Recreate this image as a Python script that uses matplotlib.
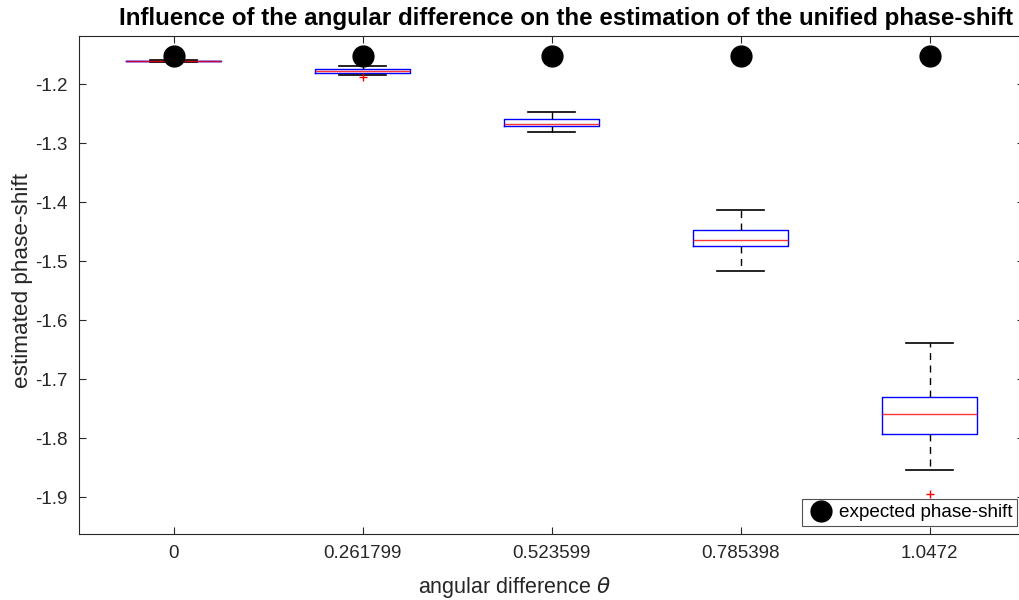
import matplotlib
matplotlib.use("Agg")
import matplotlib.pyplot as plt

plt.rcParams['font.family'] = ['Liberation Sans', 'DejaVu Sans']
plt.rcParams['axes.unicode_minus'] = False
plt.rcParams['mathtext.fontset'] = 'dejavusans'

categories = ["0", "0.261799", "0.523599", "0.785398", "1.0472"]
whisker_low = [-1.1625, -1.1853, -1.2814, -1.5164, -1.8548]
q1 = [-1.1615, -1.1808, -1.2712, -1.4751, -1.7932]
median = [-1.1610, -1.1780, -1.2678, -1.4639, -1.7588]
q3 = [-1.1605, -1.1750, -1.2588, -1.4480, -1.7300]
whisker_high = [-1.1595, -1.1695, -1.2475, -1.4141, -1.6395]
outliers = [[], [-1.1876], [], [], [-1.8954]]
expected = [-1.1525, -1.1525, -1.1525, -1.1525, -1.1525]

axcol = '#262626'
fig = plt.figure(figsize=(10.2, 6.0), dpi=100)
ax = fig.add_axes([79/1020, 66/600, (1024-79)/1020, (534-36)/600])

stats = []
for i in range(len(categories)):
    stats.append(dict(med=median[i], q1=q1[i], q3=q3[i],
                      whislo=whisker_low[i], whishi=whisker_high[i],
                      fliers=outliers[i], label=categories[i]))
pos = list(range(1, len(categories) + 1))
ax.bxp(stats, positions=pos, widths=0.5, showfliers=True,
       boxprops=dict(color='blue', linewidth=1.0),
       medianprops=dict(color='red', linewidth=1.0, alpha=0.8),
       whiskerprops=dict(color='black', linestyle=(0, (5, 4)), linewidth=1.0),
       capprops=dict(color='black', linewidth=1.2),
       capwidths=0.25,
       flierprops=dict(marker='+', markeredgecolor='red', markersize=6, linestyle='none'))

ax.plot(pos, expected, 'o', color='black', markersize=15, linestyle='none',
        label='expected phase-shift', zorder=5)

ax.set_xlim(0.5, 5.5)
ax.set_ylim(-1.9627, -1.1186)
ax.set_xticks(pos)
ax.set_xticklabels(categories)
yt = [-1.9, -1.8, -1.7, -1.6, -1.5, -1.4, -1.3, -1.2]
ax.set_yticks(yt)
ax.set_yticklabels(['%.1f' % v for v in yt])
ax.tick_params(direction='in', length=5, width=0.8, colors=axcol, labelsize=13.5,
               top=True, right=True, pad=8)
for s in ax.spines.values():
    s.set_color(axcol)
    s.set_linewidth(0.8)

ax.set_xlabel(r'angular difference $\theta$', fontsize=15.5, color=axcol)
ax.xaxis.set_label_coords((514-79)/945, -0.082)
ax.set_ylabel('estimated phase-shift', fontsize=16.2, color=axcol)
ax.yaxis.set_label_coords((33-79)/945, (534-280)/498)
ax.text((566-79)/945, 1.0 + 18/498, 'Influence of the angular difference on the estimation of the unified phase-shift',
        transform=ax.transAxes, ha='center', va='center',
        fontsize=17.4, fontweight='bold', color='black')

leg = ax.legend(loc='lower right', fontsize=13.6, frameon=True, fancybox=False,
                borderpad=0.25, handletextpad=0.2, handlelength=1.5, borderaxespad=0,
                bbox_to_anchor=((1017-79)/945, 8/498))
leg.get_frame().set_edgecolor(axcol)
leg.get_frame().set_linewidth(0.8)

fig.savefig('out.png', dpi=100)
